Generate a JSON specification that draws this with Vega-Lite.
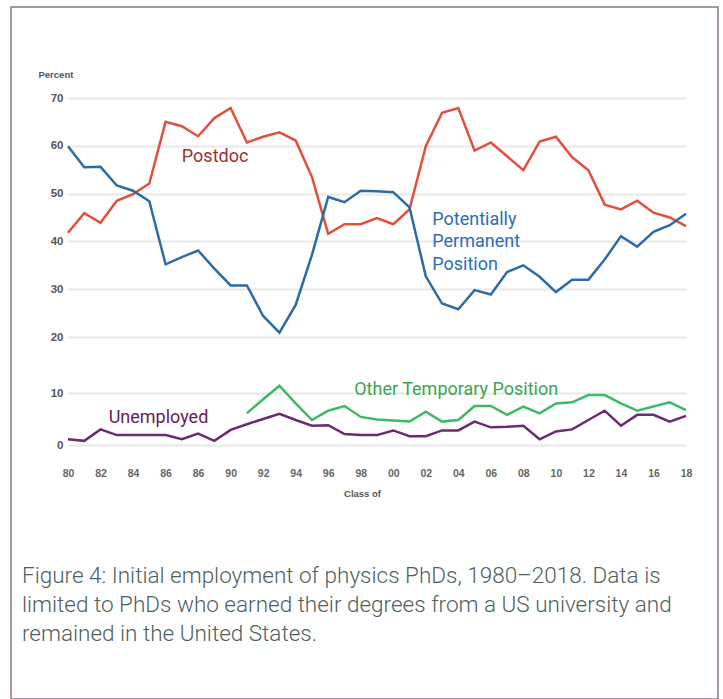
{
  "$schema": "https://vega.github.io/schema/vega-lite/v6.json",
  "width": 707,
  "height": 692,
  "autosize": {"type": "none"},
  "padding": {"left": 11, "top": 7, "right": 5, "bottom": 0},
  "background": "white",
  "config": {
    "view": {"stroke": "#8c7684", "strokeWidth": 1.5},
    "font": "Roboto"
  },
  "title": {
    "text": [
      "Figure 4: Initial employment of physics PhDs, 1980–2018. Data is",
      "limited to PhDs who earned their degrees from a US university and",
      "remained in the United States."
    ],
    "orient": "bottom",
    "anchor": "start",
    "frame": "group",
    "offset": -134,
    "dx": 11,
    "font": "Roboto",
    "fontSize": 22.5,
    "fontWeight": 300,
    "lineHeight": 29,
    "color": "#4e615f",
    "baseline": "top"
  },
  "datasets": {
    "series": [
      {"series": "Postdoc", "year": 1980, "percent": 41.8},
      {"series": "Postdoc", "year": 1981, "percent": 45.9},
      {"series": "Postdoc", "year": 1982, "percent": 43.9},
      {"series": "Postdoc", "year": 1983, "percent": 48.5},
      {"series": "Postdoc", "year": 1984, "percent": 49.9},
      {"series": "Postdoc", "year": 1985, "percent": 52.1},
      {"series": "Postdoc", "year": 1986, "percent": 65.0},
      {"series": "Postdoc", "year": 1987, "percent": 64.1},
      {"series": "Postdoc", "year": 1988, "percent": 62.0},
      {"series": "Postdoc", "year": 1989, "percent": 65.8},
      {"series": "Postdoc", "year": 1990, "percent": 67.9},
      {"series": "Postdoc", "year": 1991, "percent": 60.7},
      {"series": "Postdoc", "year": 1992, "percent": 61.9},
      {"series": "Postdoc", "year": 1993, "percent": 62.8},
      {"series": "Postdoc", "year": 1994, "percent": 61.1},
      {"series": "Postdoc", "year": 1995, "percent": 53.5},
      {"series": "Postdoc", "year": 1996, "percent": 41.6},
      {"series": "Postdoc", "year": 1997, "percent": 43.6},
      {"series": "Postdoc", "year": 1998, "percent": 43.6},
      {"series": "Postdoc", "year": 1999, "percent": 44.9},
      {"series": "Postdoc", "year": 2000, "percent": 43.6},
      {"series": "Postdoc", "year": 2001, "percent": 46.7},
      {"series": "Postdoc", "year": 2002, "percent": 59.9},
      {"series": "Postdoc", "year": 2003, "percent": 66.9},
      {"series": "Postdoc", "year": 2004, "percent": 67.9},
      {"series": "Postdoc", "year": 2005, "percent": 59.0},
      {"series": "Postdoc", "year": 2006, "percent": 60.7},
      {"series": "Postdoc", "year": 2007, "percent": 57.8},
      {"series": "Postdoc", "year": 2008, "percent": 54.9},
      {"series": "Postdoc", "year": 2009, "percent": 60.9},
      {"series": "Postdoc", "year": 2010, "percent": 61.9},
      {"series": "Postdoc", "year": 2011, "percent": 57.6},
      {"series": "Postdoc", "year": 2012, "percent": 54.9},
      {"series": "Postdoc", "year": 2013, "percent": 47.7},
      {"series": "Postdoc", "year": 2014, "percent": 46.7},
      {"series": "Postdoc", "year": 2015, "percent": 48.5},
      {"series": "Postdoc", "year": 2016, "percent": 46.0},
      {"series": "Postdoc", "year": 2017, "percent": 45.0},
      {"series": "Postdoc", "year": 2018, "percent": 43.2},
      {"series": "Potentially Permanent Position", "year": 1980, "percent": 59.9},
      {"series": "Potentially Permanent Position", "year": 1981, "percent": 55.5},
      {"series": "Potentially Permanent Position", "year": 1982, "percent": 55.6},
      {"series": "Potentially Permanent Position", "year": 1983, "percent": 51.7},
      {"series": "Potentially Permanent Position", "year": 1984, "percent": 50.6},
      {"series": "Potentially Permanent Position", "year": 1985, "percent": 48.4},
      {"series": "Potentially Permanent Position", "year": 1986, "percent": 35.2},
      {"series": "Potentially Permanent Position", "year": 1987, "percent": 36.7},
      {"series": "Potentially Permanent Position", "year": 1988, "percent": 38.1},
      {"series": "Potentially Permanent Position", "year": 1989, "percent": 34.3},
      {"series": "Potentially Permanent Position", "year": 1990, "percent": 30.8},
      {"series": "Potentially Permanent Position", "year": 1991, "percent": 30.8},
      {"series": "Potentially Permanent Position", "year": 1992, "percent": 24.4},
      {"series": "Potentially Permanent Position", "year": 1993, "percent": 20.9},
      {"series": "Potentially Permanent Position", "year": 1994, "percent": 26.7},
      {"series": "Potentially Permanent Position", "year": 1995, "percent": 37.2},
      {"series": "Potentially Permanent Position", "year": 1996, "percent": 49.3},
      {"series": "Potentially Permanent Position", "year": 1997, "percent": 48.2},
      {"series": "Potentially Permanent Position", "year": 1998, "percent": 50.6},
      {"series": "Potentially Permanent Position", "year": 1999, "percent": 50.5},
      {"series": "Potentially Permanent Position", "year": 2000, "percent": 50.3},
      {"series": "Potentially Permanent Position", "year": 2001, "percent": 47.1},
      {"series": "Potentially Permanent Position", "year": 2002, "percent": 32.7},
      {"series": "Potentially Permanent Position", "year": 2003, "percent": 27.0},
      {"series": "Potentially Permanent Position", "year": 2004, "percent": 25.8},
      {"series": "Potentially Permanent Position", "year": 2005, "percent": 29.8},
      {"series": "Potentially Permanent Position", "year": 2006, "percent": 28.9},
      {"series": "Potentially Permanent Position", "year": 2007, "percent": 33.6},
      {"series": "Potentially Permanent Position", "year": 2008, "percent": 35.0},
      {"series": "Potentially Permanent Position", "year": 2009, "percent": 32.6},
      {"series": "Potentially Permanent Position", "year": 2010, "percent": 29.4},
      {"series": "Potentially Permanent Position", "year": 2011, "percent": 32.0},
      {"series": "Potentially Permanent Position", "year": 2012, "percent": 32.0},
      {"series": "Potentially Permanent Position", "year": 2013, "percent": 36.2},
      {"series": "Potentially Permanent Position", "year": 2014, "percent": 41.1},
      {"series": "Potentially Permanent Position", "year": 2015, "percent": 38.9},
      {"series": "Potentially Permanent Position", "year": 2016, "percent": 42.0},
      {"series": "Potentially Permanent Position", "year": 2017, "percent": 43.4},
      {"series": "Potentially Permanent Position", "year": 2018, "percent": 45.8},
      {"series": "Other Temporary Position", "year": 1991, "percent": 6.1},
      {"series": "Other Temporary Position", "year": 1992, "percent": 8.8},
      {"series": "Other Temporary Position", "year": 1993, "percent": 11.3},
      {"series": "Other Temporary Position", "year": 1994, "percent": 8.0},
      {"series": "Other Temporary Position", "year": 1995, "percent": 4.8},
      {"series": "Other Temporary Position", "year": 1996, "percent": 6.6},
      {"series": "Other Temporary Position", "year": 1997, "percent": 7.5},
      {"series": "Other Temporary Position", "year": 1998, "percent": 5.4},
      {"series": "Other Temporary Position", "year": 1999, "percent": 4.9},
      {"series": "Other Temporary Position", "year": 2000, "percent": 4.7},
      {"series": "Other Temporary Position", "year": 2001, "percent": 4.5},
      {"series": "Other Temporary Position", "year": 2002, "percent": 6.4},
      {"series": "Other Temporary Position", "year": 2003, "percent": 4.5},
      {"series": "Other Temporary Position", "year": 2004, "percent": 4.8},
      {"series": "Other Temporary Position", "year": 2005, "percent": 7.5},
      {"series": "Other Temporary Position", "year": 2006, "percent": 7.5},
      {"series": "Other Temporary Position", "year": 2007, "percent": 5.8},
      {"series": "Other Temporary Position", "year": 2008, "percent": 7.4},
      {"series": "Other Temporary Position", "year": 2009, "percent": 6.1},
      {"series": "Other Temporary Position", "year": 2010, "percent": 8.0},
      {"series": "Other Temporary Position", "year": 2011, "percent": 8.2},
      {"series": "Other Temporary Position", "year": 2012, "percent": 9.6},
      {"series": "Other Temporary Position", "year": 2013, "percent": 9.6},
      {"series": "Other Temporary Position", "year": 2014, "percent": 8.0},
      {"series": "Other Temporary Position", "year": 2015, "percent": 6.6},
      {"series": "Other Temporary Position", "year": 2016, "percent": 7.4},
      {"series": "Other Temporary Position", "year": 2017, "percent": 8.2},
      {"series": "Other Temporary Position", "year": 2018, "percent": 6.7},
      {"series": "Unemployed", "year": 1980, "percent": 1.1},
      {"series": "Unemployed", "year": 1981, "percent": 0.8},
      {"series": "Unemployed", "year": 1982, "percent": 3.0},
      {"series": "Unemployed", "year": 1983, "percent": 1.9},
      {"series": "Unemployed", "year": 1984, "percent": 1.9},
      {"series": "Unemployed", "year": 1985, "percent": 1.9},
      {"series": "Unemployed", "year": 1986, "percent": 1.9},
      {"series": "Unemployed", "year": 1987, "percent": 1.1},
      {"series": "Unemployed", "year": 1988, "percent": 2.2},
      {"series": "Unemployed", "year": 1989, "percent": 0.8},
      {"series": "Unemployed", "year": 1990, "percent": 2.9},
      {"series": "Unemployed", "year": 1991, "percent": 4.0},
      {"series": "Unemployed", "year": 1992, "percent": 5.0},
      {"series": "Unemployed", "year": 1993, "percent": 6.0},
      {"series": "Unemployed", "year": 1994, "percent": 4.8},
      {"series": "Unemployed", "year": 1995, "percent": 3.7},
      {"series": "Unemployed", "year": 1996, "percent": 3.8},
      {"series": "Unemployed", "year": 1997, "percent": 2.1},
      {"series": "Unemployed", "year": 1998, "percent": 1.9},
      {"series": "Unemployed", "year": 1999, "percent": 1.9},
      {"series": "Unemployed", "year": 2000, "percent": 2.8},
      {"series": "Unemployed", "year": 2001, "percent": 1.7},
      {"series": "Unemployed", "year": 2002, "percent": 1.7},
      {"series": "Unemployed", "year": 2003, "percent": 2.8},
      {"series": "Unemployed", "year": 2004, "percent": 2.8},
      {"series": "Unemployed", "year": 2005, "percent": 4.5},
      {"series": "Unemployed", "year": 2006, "percent": 3.4},
      {"series": "Unemployed", "year": 2007, "percent": 3.5},
      {"series": "Unemployed", "year": 2008, "percent": 3.7},
      {"series": "Unemployed", "year": 2009, "percent": 1.1},
      {"series": "Unemployed", "year": 2010, "percent": 2.6},
      {"series": "Unemployed", "year": 2011, "percent": 3.0},
      {"series": "Unemployed", "year": 2012, "percent": 4.8},
      {"series": "Unemployed", "year": 2013, "percent": 6.6},
      {"series": "Unemployed", "year": 2014, "percent": 3.7},
      {"series": "Unemployed", "year": 2015, "percent": 5.8},
      {"series": "Unemployed", "year": 2016, "percent": 5.8},
      {"series": "Unemployed", "year": 2017, "percent": 4.5},
      {"series": "Unemployed", "year": 2018, "percent": 5.6}
    ],
    "labels": [
      {"label": "Postdoc", "year": 1987.0, "percent": 57.7},
      {"label": "Potentially\nPermanent\nPosition", "year": 2002.4, "percent": 44.5},
      {"label": "Other Temporary Position", "year": 1997.6, "percent": 10.5},
      {"label": "Unemployed", "year": 1982.5, "percent": 5.2}
    ]
  },
  "layer": [
    {
      "data": {"name": "series"},
      "mark": {"type": "line", "strokeWidth": 2.5},
      "encoding": {
        "x": {
          "field": "year",
          "type": "quantitative",
          "scale": {"domain": [1980, 2018], "range": [57, 675], "nice": false, "zero": false},
          "axis": {
            "orient": "bottom",
            "offset": -231,
            "values": [1980, 1982, 1984, 1986, 1988, 1990, 1992, 1994, 1996, 1998, 2000, 2002, 2004, 2006, 2008, 2010, 2012, 2014, 2016, 2018],
            "tickCount": 40,
            "format": "d",
            "labelExpr": "datum.value == 1988 ? '86' : substring(datum.label, 2)",
            "labelOverlap": false,
            "labelFlush": false,
            "domain": false,
            "ticks": false,
            "tickSize": 0,
            "labelPadding": 0,
            "labelDx": 5,
            "grid": false,
            "labelFont": "Liberation Sans",
            "labelFontSize": 10.5,
            "labelFontWeight": "bold",
            "labelColor": "#666666",
            "labelBaseline": "top",
            "title": "Class of",
            "titleFont": "Liberation Sans",
            "titleFontSize": 9.5,
            "titleFontWeight": "bold",
            "titleColor": "#555555",
            "titleX": 351,
            "titleY": 25,
            "titleAlign": "center",
            "titleBaseline": "middle"
          }
        },
        "y": {
          "field": "percent",
          "type": "quantitative",
          "scale": {"domain": [0, 10, 20, 70], "range": [438, 386, 330, 91], "nice": false, "zero": false},
          "axis": {
            "orient": "left",
            "offset": -52,
            "values": [0, 10, 20, 30, 40, 50, 60, 70],
            "tickCount": 20,
            "domain": false,
            "ticks": false,
            "tickSize": 0,
            "labelPadding": 0,
            "grid": true,
            "gridColor": "#e8e8e8",
            "gridWidth": 2,
            "labelFont": "Liberation Sans",
            "labelFontSize": 11.5,
            "labelFontWeight": "bold",
            "labelColor": "#555555",
            "title": "Percent",
            "titleFont": "Liberation Sans",
            "titleFontSize": 9.5,
            "titleFontWeight": "bold",
            "titleColor": "#555555",
            "titleAngle": 0,
            "titleAlign": "left",
            "titleBaseline": "middle",
            "titleX": -25,
            "titleY": 67
          }
        },
        "color": {
          "field": "series",
          "type": "nominal",
          "scale": {
            "domain": ["Postdoc", "Potentially Permanent Position", "Other Temporary Position", "Unemployed"],
            "range": ["#e0503d", "#2c6ca6", "#3dba68", "#6c2a70"]
          },
          "legend": null
        }
      }
    },
    {
      "data": {"name": "labels"},
      "mark": {"type": "text", "align": "left", "baseline": "middle", "font": "Roboto", "fontSize": 18, "lineBreak": "\n", "lineHeight": 22.5},
      "encoding": {
        "x": {"field": "year", "type": "quantitative"},
        "y": {"field": "percent", "type": "quantitative"},
        "text": {"field": "label"},
        "color": {
          "field": "label",
          "type": "nominal",
          "scale": {
            "domain": ["Postdoc", "Potentially\nPermanent\nPosition", "Other Temporary Position", "Unemployed"],
            "range": ["#9c2f35", "#2d6db4", "#3aa64e", "#6a1b57"]
          },
          "legend": null
        }
      }
    }
  ],
  "resolve": {"scale": {"color": "independent"}}
}
